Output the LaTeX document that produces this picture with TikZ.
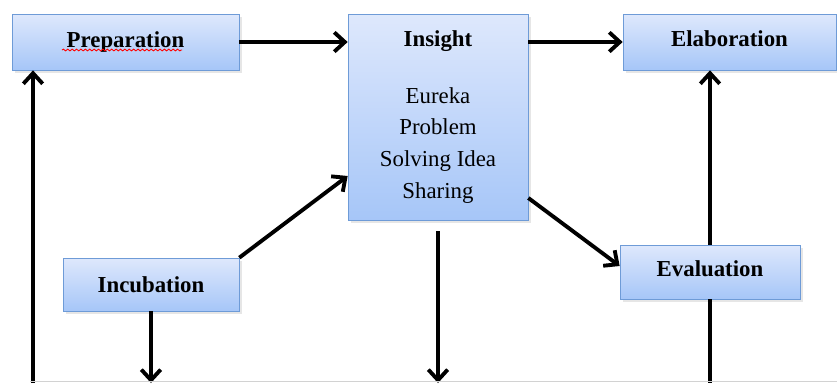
\documentclass[tikz,border=0pt]{standalone}
\usepackage{fontspec}
\setmainfont{Liberation Serif}
\usetikzlibrary{arrows.meta,calc,shadows,decorations.pathmorphing}
\definecolor{boxtop}{RGB}{222,232,252}
\definecolor{boxbot}{RGB}{166,198,248}
\definecolor{boxline}{RGB}{110,155,215}

\begin{document}
\begin{tikzpicture}[x=0.02cm,y=-0.02cm,font=\fontsize{13pt}{18pt}\selectfont,
  >={Straight Barb[length=6pt,width=11pt]},
  stage/.style={draw=boxline,top color=boxtop,bottom color=boxbot,inner sep=2pt,
    drop shadow={opacity=.2,shadow xshift=1.5pt,shadow yshift=-1.5pt}},
  flow/.style={line width=2.2pt}]
\useasboundingbox (0,0) rectangle (837,383);
\coordinate (base) at (0,383); \coordinate (loop) at (33,383);
\node[stage,minimum width=4.54cm,minimum height=1.12cm] (prep) at (125.5,42) {\textbf{Preparation}};
\node[stage,minimum width=3.6cm,minimum height=4.12cm,align=center] (insight) at (438,117)
  {\textbf{Insight}\\[14pt] Eureka\\ Problem\\ Solving Idea\\ Sharing};
\node[stage,minimum width=4.26cm,minimum height=1.12cm,text depth=4pt] (elab) at (729.5,42) {\textbf{Elaboration}};
\node[stage,minimum width=3.52cm,minimum height=1.06cm] (incub) at (151,284.5) {\textbf{Incubation}};
\node[stage,minimum width=3.6cm,minimum height=1.08cm,text depth=4pt] (eval) at (710,272) {\textbf{Evaluation}};
% spell-check mark
\draw[red,line width=.5pt,decorate,decoration={snake,amplitude=.5pt,segment length=2.5pt}] (62,50) -- (182,50);
\draw[flow,->] (prep.east) -- (prep.east -| insight.west);
\draw[flow,->] (elab.west -| insight.east) -- (elab.west);
\draw[flow,->] (incub.north east) -- ([yshift=-1.18cm]insight.west);
\draw[flow,->] ([yshift=-1.62cm]insight.east) -- ([yshift=0.12cm]eval.west);
\draw[flow,->] ([yshift=-0.22cm]insight.south) -- (insight.south |- base);
\draw[flow,->] (incub.south) -- (incub.south |- base);
\draw[flow,->] (eval.north) -- (eval.north |- elab.south);
\draw[flow] (eval.south) -- (eval.south |- base);
\draw[flow,->] (loop) -- (loop |- prep.south);
\draw[gray!35] (30,381.5) -- (837,381.5);
\end{tikzpicture}
\end{document}
